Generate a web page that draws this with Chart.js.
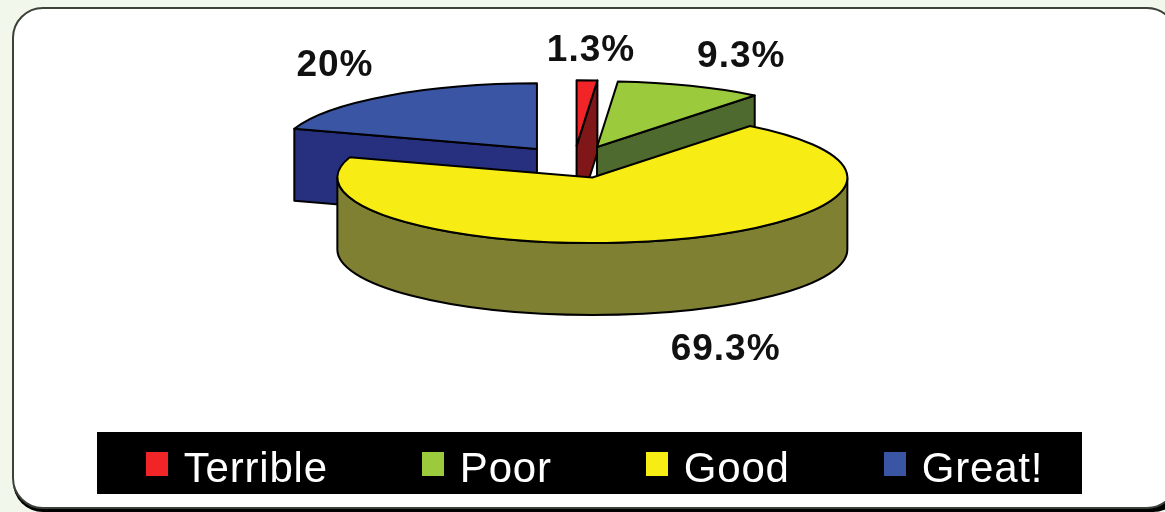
<!DOCTYPE html>
<html>
<head>
<meta charset="utf-8">
<style>html,body{margin:0;padding:0;background:#f2f7ec;overflow:hidden}canvas{display:block}</style>
<script src="https://cdn.jsdelivr.net/npm/chart.js@4"></script>
</head>
<body>
<canvas id="c" width="1165" height="512"></canvas>
<script>
const categories = ['Terrible', 'Poor', 'Good', 'Great!'];
const percentages = [1.3, 9.3, 69.3, 20];
const topColors = ['#f12428', '#9bcb3c', '#f7ec13', '#3a55a4'];
const wallColors = ['#7f1719', '#4f6a2f', '#808033', '#27307f'];
const labelNudges = [[4, -30], [51, -29], [59, 110], [-52, -30]];

const CX = 574, CY = 162, SQUASH = 0.257, EXPLODE = 63, DEPTH = 72, RADIUS = 255;
const LINE = '#000';

function swatch(color) {
  const c = document.createElement('canvas');
  c.width = 22; c.height = 36;
  const g = c.getContext('2d');
  g.fillStyle = color;
  g.fillRect(0, 0, 22, 24);
  return c;
}

const frame = {
  id: 'frame',
  afterInit(chart) { chart.ctx.letterSpacing = '0.8px'; },
  beforeDraw(chart) {
    const ctx = chart.ctx;
    ctx.save();
    ctx.fillStyle = '#f2f7ec';
    ctx.fillRect(0, 0, chart.width, chart.height);
    ctx.fillStyle = '#000';
    ctx.beginPath(); ctx.roundRect(13, 11, 1170, 501, 30); ctx.fill();
    ctx.beginPath(); ctx.roundRect(13, 8, 1164, 500, 30);
    ctx.fillStyle = '#fff'; ctx.fill();
    ctx.strokeStyle = '#3c423a'; ctx.lineWidth = 2; ctx.stroke();
    ctx.fillStyle = '#000';
    ctx.fillRect(97, 432, 985, 62);
    ctx.restore();
  }
};

const placeLegend = {
  id: 'placeLegend',
  afterLayout(chart) {
    const l = chart.legend;
    l.left = 9; l.right = 1185; l.top = 350; l.bottom = 600; l.height = 250; l.width = 1176;
  }
};

const pie3d = {
  id: 'pie3d',
  beforeDatasetDraw(chart) {
    const ctx = chart.ctx;
    const arcs = chart.getDatasetMeta(0).data;
    const mid = a => (a.startAngle + a.endAngle) / 2;
    const order = arcs.map((a, i) => i).sort((p, q) => Math.sin(mid(arcs[p])) - Math.sin(mid(arcs[q])));
    ctx.save();
    ctx.lineJoin = 'round';
    ctx.strokeStyle = LINE;
    ctx.lineWidth = 2;
    for (const i of order) {
      const a = arcs[i];
      const r = a.outerRadius, ry = r * SQUASH;
      const m = mid(a);
      const cx = CX + Math.cos(m) * EXPLODE;
      const cy = CY + Math.sin(m) * EXPLODE * SQUASH;
      const pt = t => [cx + r * Math.cos(t), cy + ry * Math.sin(t)];
      ctx.fillStyle = wallColors[i];
      const face = t => {
        const [x, y] = pt(t);
        ctx.beginPath();
        ctx.moveTo(cx, cy); ctx.lineTo(x, y);
        ctx.lineTo(x, y + DEPTH); ctx.lineTo(cx, cy + DEPTH);
        ctx.closePath(); ctx.fill(); ctx.stroke();
      };
      if (-Math.cos(a.startAngle) > 0) face(a.startAngle);
      if (Math.cos(a.endAngle) > 0) face(a.endAngle);
      const s = Math.max(a.startAngle, 0), e = Math.min(a.endAngle, Math.PI);
      if (e > s) {
        ctx.beginPath();
        ctx.ellipse(cx, cy, r, ry, 0, s, e);
        ctx.ellipse(cx, cy + DEPTH, r, ry, 0, e, s, true);
        ctx.closePath(); ctx.fill(); ctx.stroke();
      }
      ctx.save();
      ctx.translate(cx, cy);
      ctx.scale(1, SQUASH);
      ctx.translate(-a.x, -a.y);
      a.draw(ctx);
      ctx.restore();
      ctx.beginPath();
      ctx.moveTo(cx, cy);
      ctx.ellipse(cx, cy, r, ry, 0, a.startAngle, a.endAngle);
      ctx.closePath(); ctx.stroke();
    }
    ctx.font = 'bold 37px "Liberation Sans", Arial, sans-serif';
    ctx.letterSpacing = '1px';
    ctx.fillStyle = '#111';
    ctx.textAlign = 'center';
    ctx.textBaseline = 'middle';
    arcs.forEach((a, i) => {
      const m = mid(a), R = a.outerRadius + EXPLODE;
      const x = CX + Math.cos(m) * R + labelNudges[i][0];
      const y = CY + Math.sin(m) * R * SQUASH + labelNudges[i][1];
      ctx.fillText(percentages[i] + '%', x, y);
    });
    ctx.restore();
    return false;
  }
};

new Chart(document.getElementById('c'), {
  type: 'pie',
  data: {
    labels: categories,
    datasets: [{ data: percentages, backgroundColor: topColors, borderWidth: 0 }]
  },
  options: {
    responsive: false,
    animation: false,
    radius: RADIUS,
    plugins: {
      tooltip: { enabled: false },
      legend: {
        position: 'bottom',
        labels: {
          color: '#fff',
          usePointStyle: true,
          pointStyleWidth: 12,
          padding: 99,
          font: { family: '"Liberation Sans", Arial, sans-serif', size: 42 },
          generateLabels(chart) {
            return Chart.overrides.pie.plugins.legend.labels.generateLabels(chart)
              .map((item, i) => Object.assign(item, { pointStyle: swatch(topColors[i]) }));
          }
        }
      }
    }
  },
  plugins: [frame, placeLegend, pie3d]
});
</script>
</body>
</html>
